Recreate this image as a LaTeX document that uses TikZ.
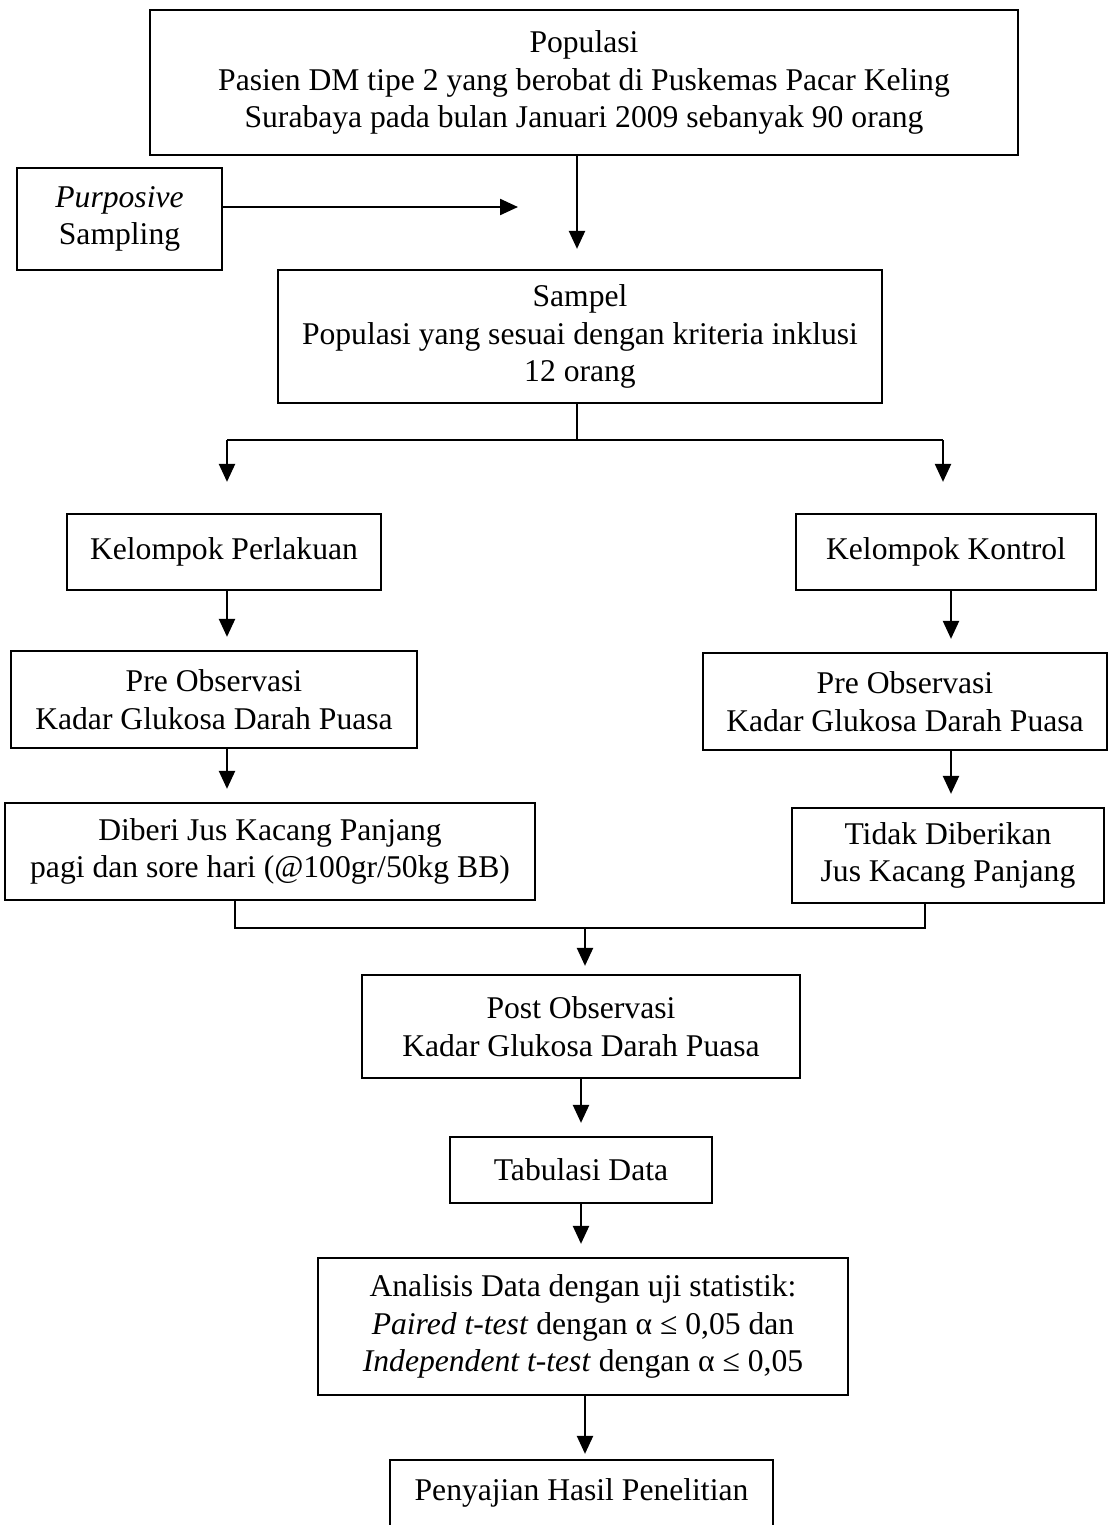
\documentclass[tikz,border=0pt]{standalone}
\usepackage{fontspec}
\setmainfont{Liberation Serif}
\usetikzlibrary{arrows.meta}

\begin{document}
\begin{tikzpicture}[x=0.02cm, y=-0.02cm]
  \tikzstyle{kotak}=[draw, line width=1.3pt, align=center, inner sep=0,
    font=\fontsize{18}{21.5}\selectfont];
  \tikzstyle{panah}=[line width=1.3pt, -{Triangle[length=3.6mm, width=3.2mm]}, shorten >=0.26cm];
  \tikzstyle{garis}=[line width=1.3pt];

  \useasboundingbox (0, 0) rectangle (1109, 1525);

  \node[kotak, minimum width=17.36cm, minimum height=2.9cm] (pop) at (584, 82.5)
    {Populasi\\Pasien DM tipe 2 yang berobat di Puskemas Pacar Keling\\Surabaya pada bulan Januari 2009 sebanyak 90 orang};
  \node[kotak, minimum width=4.1cm, minimum height=2.04cm] (purp) at (119.5, 219)
    {\textit{Purposive}\\Sampling};
  \node[kotak, minimum width=12.08cm, minimum height=2.66cm] (sampel) at (580, 336.5)
    {Sampel\\Populasi yang sesuai dengan kriteria inklusi\\12 orang};

  \node[kotak, minimum width=6.28cm, minimum height=1.52cm] (perl) at (224, 552)
    {Kelompok Perlakuan};
  \node[kotak, minimum width=6cm, minimum height=1.52cm] (kontrol) at (946, 552)
    {Kelompok Kontrol};
  \node[kotak, minimum width=8.12cm, minimum height=1.94cm] (preL) at (214, 699.5)
    {Pre Observasi\\Kadar Glukosa Darah Puasa};
  \node[kotak, minimum width=8.08cm, minimum height=1.94cm] (preR) at (905, 701.5)
    {Pre Observasi\\Kadar Glukosa Darah Puasa};
  \node[kotak, minimum width=10.6cm, minimum height=1.94cm] (diberi) at (270, 851.5)
    {Diberi Jus Kacang Panjang\\pagi dan sore hari (@100gr/50kg BB)};
  \node[kotak, minimum width=6.24cm, minimum height=1.9cm] (tidak) at (948, 855.5)
    {Tidak Diberikan\\Jus Kacang Panjang};

  \node[kotak, minimum width=8.76cm, minimum height=2.06cm] (post) at (581, 1026.5)
    {Post Observasi\\Kadar Glukosa Darah Puasa};
  \node[kotak, minimum width=5.24cm, minimum height=1.32cm] (tab) at (581, 1170)
    {Tabulasi Data};
  \node[kotak, minimum width=10.6cm, minimum height=2.74cm] (anal) at (583, 1326.5)
    {Analisis Data dengan uji statistik:\\\textit{Paired t-test} dengan α ≤ 0,05 dan\\\textit{Independent t-test} dengan α ≤ 0,05};
  \node[kotak, minimum width=7.66cm, minimum height=1.32cm] (peny) at (581.5, 1493)
    {Penyajian Hasil Penelitian};

  % purposive sampling
  \coordinate (ujung) at (518, 207);
  \draw[panah, shorten >=0] (purp.east |- ujung) -- (ujung);
  \draw[panah, shorten >=0.4cm] (pop.south -| 577, 0) -- (sampel.north -| 577, 0);

  % cabang ke dua kelompok
  \coordinate (kiri) at (227, 440);
  \coordinate (kanan) at (943, 440);
  \draw[garis] (sampel.south -| 577, 0) -- (577, 440);
  \draw[garis] (kiri) -- (kanan);
  \draw[panah, shorten >=0.62cm] (kiri) -- (kiri |- perl.north);
  \draw[panah, shorten >=0.62cm] (kanan) -- (kanan |- kontrol.north);

  \draw[panah] (perl.south -| kiri) -- (preL.north -| kiri);
  \draw[panah] (kontrol.south -| 951, 0) -- (preR.north -| 951, 0);
  \draw[panah] (preL.south -| kiri) -- (diberi.north -| kiri);
  \draw[panah] (preR.south -| 951, 0) -- (tidak.north -| 951, 0);

  % gabung
  \coordinate (gabung) at (585, 928);
  \draw[garis] ([xshift=-0.7cm]diberi.south) |- (gabung) -| ([xshift=-0.46cm]tidak.south);
  \draw[panah, shorten >=0.16cm] (gabung) -- (gabung |- post.north);

  \draw[panah] (post.south) -- (tab.north);
  \draw[panah] (tab.south) -- (tab.south |- anal.north);
  \draw[panah, shorten >=0.1cm] (anal.south -| 585, 0) -- (peny.north -| 585, 0);
\end{tikzpicture}
\end{document}
